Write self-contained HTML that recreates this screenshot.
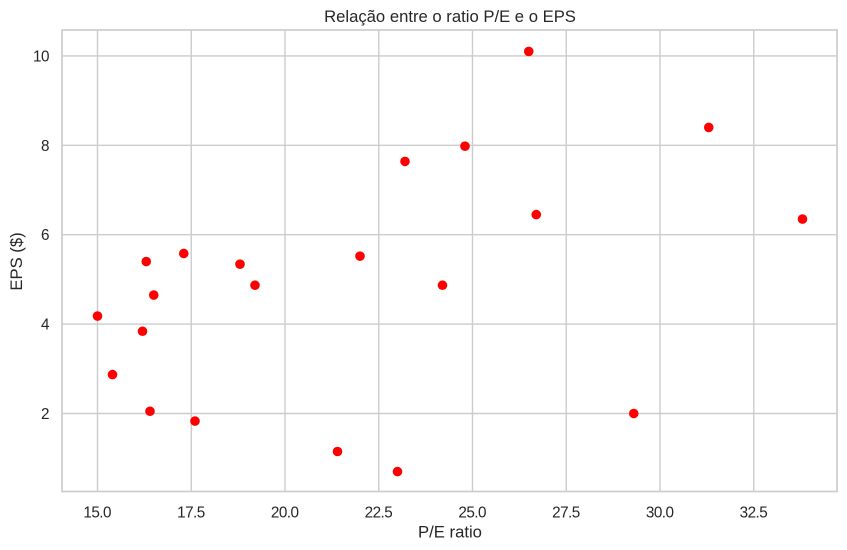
<!DOCTYPE html>
<html lang="pt">
<head>
<meta charset="utf-8">
<title>Relação entre o ratio P/E e o EPS</title>
<style>
html,body{margin:0;padding:0;background:#fff;}
svg{display:block;}
text{font-family:"Liberation Sans",Arial,sans-serif;fill:#262626;}
</style>
</head>
<body>
<svg id="chart" xmlns="http://www.w3.org/2000/svg" width="847" height="550" viewBox="0 0 847 550">
  <rect x="62" y="30" width="775" height="461.5" fill="#ffffff"/>
  <g id="grid"></g>
  <rect x="62" y="30" width="775" height="461.5" fill="none" stroke="#cccccc" stroke-width="1.7"/>
  <g id="points"></g>
  <g id="tick-labels"></g>
  <text x="450" y="22" font-size="16.67" text-anchor="middle">Relação entre o ratio P/E e o EPS</text>
  <text x="450" y="537.3" font-size="16.67" text-anchor="middle">P/E ratio</text>
  <text transform="translate(22,261.5) rotate(-90)" font-size="16.67" text-anchor="middle">EPS ($)</text>
</svg>
<script>
const peRatios = [15.0, 15.4, 16.2, 16.3, 16.4, 16.5, 17.3, 17.6, 18.8, 19.2, 21.4, 22.0, 23.0, 23.2, 24.2, 24.8, 26.5, 26.7, 29.3, 31.3, 33.8];
const epsValues = [4.18, 2.87, 3.84, 5.40, 2.05, 4.65, 5.58, 1.83, 5.34, 4.87, 1.15, 5.52, 0.70, 7.64, 4.87, 7.98, 10.10, 6.45, 2.00, 8.40, 6.35];
const xTicks = [15.0, 17.5, 20.0, 22.5, 25.0, 27.5, 30.0, 32.5];
const yTicks = [2, 4, 6, 8, 10];

const NS = 'http://www.w3.org/2000/svg';
const xScale = function (v) { return 97.5 + (v - 15) * 37.5; };
const yScale = function (v) { return 413.5 - (v - 2) * 44.7; };
const gridGroup = document.getElementById('grid');
const pointGroup = document.getElementById('points');
const labelGroup = document.getElementById('tick-labels');

function makeLine(x1, y1, x2, y2) {
  const line = document.createElementNS(NS, 'line');
  line.setAttribute('x1', x1);
  line.setAttribute('y1', y1);
  line.setAttribute('x2', x2);
  line.setAttribute('y2', y2);
  line.setAttribute('stroke', '#cccccc');
  line.setAttribute('stroke-width', '1.4');
  gridGroup.appendChild(line);
  return line;
}

function makeLabel(x, y, anchor, content) {
  const label = document.createElementNS(NS, 'text');
  label.setAttribute('x', x);
  label.setAttribute('y', y);
  label.setAttribute('font-size', '15.28');
  label.setAttribute('letter-spacing', '-0.5');
  label.setAttribute('text-anchor', anchor);
  label.textContent = content;
  labelGroup.appendChild(label);
  return label;
}

xTicks.forEach(function (tick) {
  const px = xScale(tick);
  const gridLine = makeLine(px, 30, px, 491.5);
  
  
  const tickLabel = makeLabel(px - 0.3, 517.3, 'middle', tick.toFixed(1));
  
  
});

yTicks.forEach(function (tick) {
  const py = yScale(tick);
  const gridLine = makeLine(62, py, 837, py);
  
  
  const tickLabel = makeLabel(49, py + 5.5, 'end', String(tick));
  
  
});

peRatios.forEach(function (pe, i) {
  const dot = document.createElementNS(NS, 'circle');
  dot.setAttribute('cx', xScale(pe));
  dot.setAttribute('cy', yScale(epsValues[i]));
  dot.setAttribute('r', '4.8');
  dot.setAttribute('fill', '#ff0000');
  
  
  pointGroup.appendChild(dot);
});
</script>
</body>
</html>
